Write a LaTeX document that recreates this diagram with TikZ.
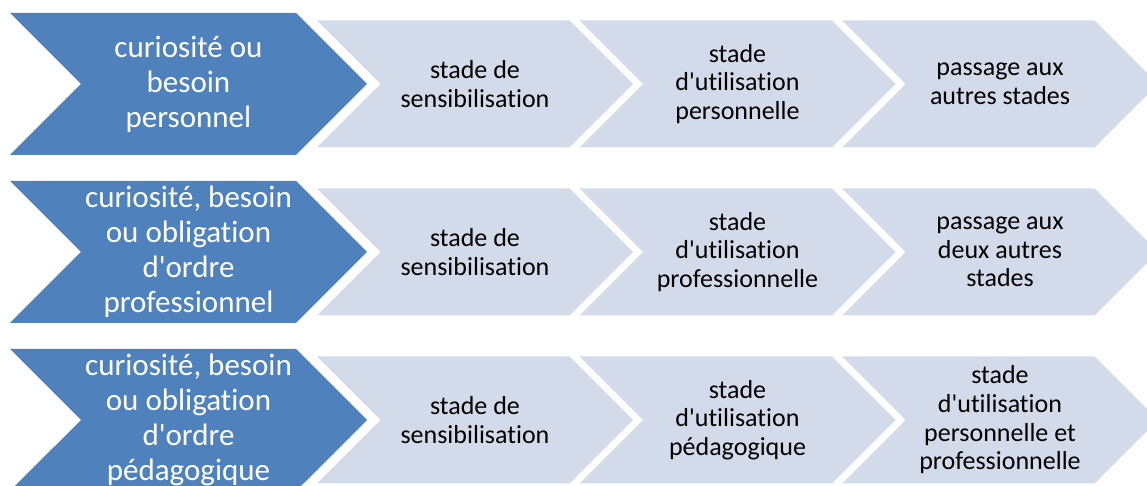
\documentclass[tikz,border=0pt]{standalone}
\usepackage{fontspec}
\setmainfont{Carlito}[Ligatures={NoCommon,TeXOff}]
\usepackage{tikz}
\usetikzlibrary{positioning,calc,shapes.symbols}
\definecolor{stepblue}{RGB}{79,129,189}
\definecolor{stagegrey}{RGB}{211,218,234}
\tikzset{
  startstep/.style={signal, signal to=east, signal from=west, fill=stepblue, text=white,
    minimum width=357pt, minimum height=142pt, inner sep=0pt, align=center,
    font=\fontsize{31}{35}\selectfont},
  stagestep/.style={signal, signal to=east, signal from=west, fill=stagegrey, text=black,
    minimum width=316pt, minimum height=127pt, inner sep=0pt, align=center,
    font=\fontsize{26}{28.7}\selectfont}
}

\begin{document}
\begin{tikzpicture}[x=1pt,y=1pt]
    \clip (0,0) rectangle (1147,486);
    % row 1
    \node[startstep] (P) at (188.5,402) {curiosité ou\\besoin\\personnel}; %
    \node[stagestep] (Ps) at (475,402) {stade de\\sensibilisation}; %
    \node[stagestep] (Pu) at ($(Ps)+(262.5,0)$) {stade\\d'utilisation\\personnelle}; %
    \node[stagestep] (Pa) at ($(Pu)+(262.5,0)$) {passage aux\\autres stades}; %
    % row 2
    \node[startstep] (R) at ($(P)+(0,-168)$) {curiosité, besoin\\ou obligation\\d'ordre\\professionnel}; %
    \node[stagestep] (Rs) at ($(Ps)+(0,-168)$) {stade de\\sensibilisation}; %
    \node[stagestep] (Ru) at ($(Rs)+(262.5,0)$) {stade\\d'utilisation\\professionnelle}; %
    \node[stagestep] (Ra) at ($(Ru)+(262.5,0)$) {passage aux\\deux autres\\stades}; %
    % row 3
    \node[startstep] (G) at ($(R)+(0,-168)$) {curiosité, besoin\\ou obligation\\d'ordre\\pédagogique}; %
    \node[stagestep] (Gs) at ($(Rs)+(0,-168)$) {stade de\\sensibilisation}; %
    \node[stagestep] (Gu) at ($(Gs)+(262.5,0)$) {stade\\d'utilisation\\pédagogique}; %
    \node[stagestep] (Ga) at ($(Gu)+(262.5,0)$) {stade\\d'utilisation\\personnelle et\\professionnelle}; %
\end{tikzpicture}
\end{document}
